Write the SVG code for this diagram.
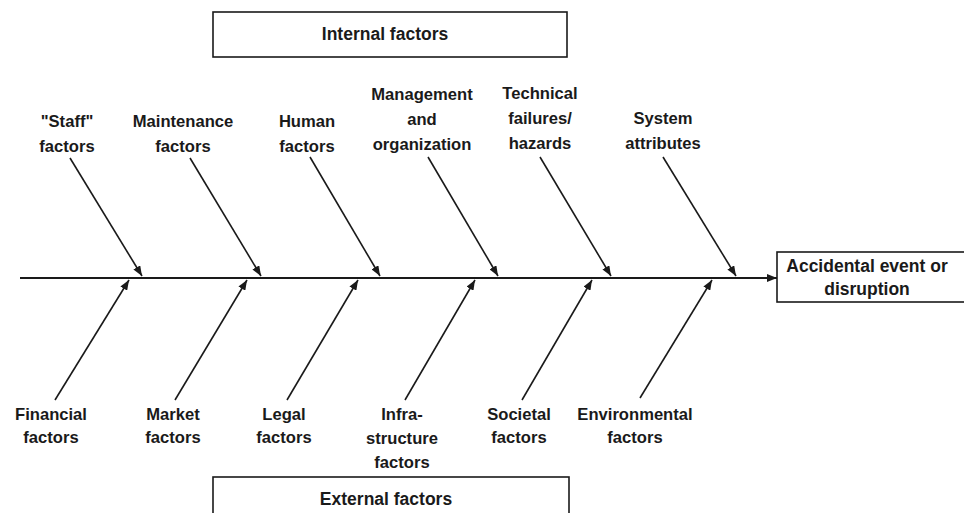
<svg xmlns="http://www.w3.org/2000/svg" width="964" height="513" viewBox="0 0 964 513">
<style>
text{font-family:"Liberation Sans",Arial,sans-serif;font-size:16.6px;font-weight:bold;fill:#1a1a1a;text-anchor:middle}
.big{font-size:17.5px}
.box{fill:#fff;stroke:#1a1a1a;stroke-width:1.6}
.ln{stroke:#1a1a1a;stroke-width:1.6;fill:none;marker-end:url(#ah)}
.spine{stroke-width:2.2}
</style>
<defs>
<marker id="ah" viewBox="0 0 10 8" refX="10" refY="4" markerWidth="10" markerHeight="8" markerUnits="userSpaceOnUse" orient="auto">
<path d="M0,0 L10,4 L0,8 z" fill="#1a1a1a"/>
</marker>
</defs>
<rect width="964" height="513" fill="#fff"/>
<g id="internal"><rect class="box" x="213" y="12" width="354" height="45"/><text class="big" x="385" y="40">Internal factors</text></g>
<g id="external"><rect class="box" x="213" y="477" width="356" height="50"/><text class="big" x="386" y="505">External factors</text></g>
<g id="event"><rect class="box" x="777" y="252" width="190" height="50"/><text class="big" x="867" y="272">Accidental event or</text><text class="big" x="867" y="295">disruption</text></g>
<g id="staff"><text x="67" y="127">"Staff"</text><text x="67" y="152">factors</text></g>
<g id="maintenance"><text x="183" y="127">Maintenance</text><text x="183" y="152">factors</text></g>
<g id="human"><text x="307" y="127">Human</text><text x="307" y="152">factors</text></g>
<g id="management"><text x="422" y="100">Management</text><text x="422" y="125">and</text><text x="422" y="150">organization</text></g>
<g id="technical"><text x="540" y="99">Technical</text><text x="540" y="124">failures/</text><text x="540" y="149">hazards</text></g>
<g id="system"><text x="663" y="124">System</text><text x="663" y="149">attributes</text></g>
<g id="financial"><text x="51" y="420">Financial</text><text x="51" y="443">factors</text></g>
<g id="market"><text x="173" y="420">Market</text><text x="173" y="443">factors</text></g>
<g id="legal"><text x="284" y="420">Legal</text><text x="284" y="443">factors</text></g>
<g id="infra"><text x="402" y="420">Infra-</text><text x="402" y="444">structure</text><text x="402" y="468">factors</text></g>
<g id="societal"><text x="519" y="420">Societal</text><text x="519" y="443">factors</text></g>
<g id="environmental"><text x="635" y="420">Environmental</text><text x="635" y="443">factors</text></g>
<g id="connectors">
<line class="ln spine" x1="20" y1="278" x2="777" y2="278"/>
<line class="ln" x1="70" y1="158" x2="142" y2="276"/>
<line class="ln" x1="190" y1="158" x2="261" y2="276"/>
<line class="ln" x1="310" y1="157" x2="380" y2="276"/>
<line class="ln" x1="428" y1="157" x2="498" y2="276"/>
<line class="ln" x1="540" y1="157" x2="611" y2="276"/>
<line class="ln" x1="663" y1="157" x2="736" y2="276"/>
<line class="ln" x1="55" y1="400" x2="129" y2="280"/>
<line class="ln" x1="175" y1="400" x2="247" y2="280"/>
<line class="ln" x1="287" y1="400" x2="358" y2="280"/>
<line class="ln" x1="405" y1="400" x2="475" y2="280"/>
<line class="ln" x1="522" y1="400" x2="592" y2="280"/>
<line class="ln" x1="640" y1="398" x2="712" y2="280"/>
</g>
</svg>
